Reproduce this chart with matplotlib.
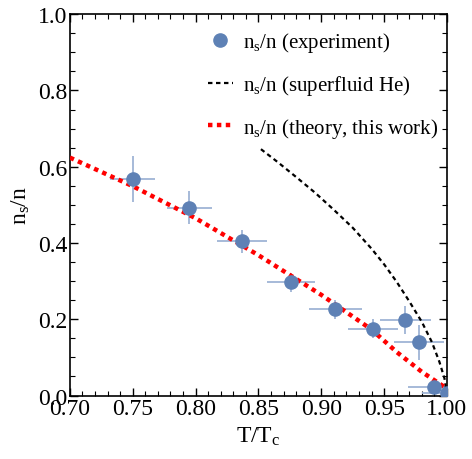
import numpy as np
import matplotlib
matplotlib.use("Agg")
import matplotlib.pyplot as plt
from matplotlib.ticker import MultipleLocator

# -----------------------------------------------------------------------------
# Data
# -----------------------------------------------------------------------------
T_exp = [0.750, 0.795, 0.837, 0.876, 0.911, 0.941, 0.967, 0.978, 0.990, 1.000]
ns_exp = [0.567, 0.493, 0.405, 0.297, 0.226, 0.175, 0.198, 0.140, 0.023, 0.007]
T_err = [0.018, 0.018, 0.020, 0.019, 0.021, 0.020, 0.020, 0.020, 0.021, 0.020]
ns_err = [0.060, 0.043, 0.030, 0.025, 0.025, 0.025, 0.036, 0.046, 0.010, 0.0]

T_theory = [0.70, 0.75, 0.80, 0.85, 0.90, 0.94, 0.96, 0.98, 1.00]
ns_theory = [0.624, 0.549, 0.465, 0.368, 0.264, 0.173, 0.114, 0.062, 0.018]

T_he = [0.852, 0.865, 0.880, 0.895, 0.910, 0.925, 0.940, 0.950, 0.960,
        0.970, 0.980, 0.988, 0.994, 0.998, 1.000]
ns_he = [0.646, 0.613, 0.573, 0.532, 0.487, 0.440, 0.385, 0.344, 0.298,
         0.247, 0.193, 0.140, 0.088, 0.045, 0.0]

# -----------------------------------------------------------------------------
# Style
# -----------------------------------------------------------------------------
plt.rcParams["font.family"] = ["Liberation Serif", "DejaVu Serif"]
plt.rcParams["mathtext.fontset"] = "custom"
plt.rcParams["mathtext.rm"] = "Liberation Serif"
plt.rcParams["mathtext.it"] = "Liberation Serif:italic"

BLUE = "#5e81b5"
BLUE_LIGHT = "#9fb4d6"

fig = plt.figure(figsize=(4.72, 4.60), dpi=100)
ax = fig.add_axes([0.148, 0.138, 0.799, 0.829])

ax.errorbar(T_exp, ns_exp, xerr=T_err, yerr=ns_err, fmt="none",
            ecolor=BLUE_LIGHT, elinewidth=1.3, capsize=0, zorder=2)
ax.plot(T_exp, ns_exp, "o", color=BLUE, ms=9.5, zorder=5,
        label=r"n$_{\rm s}$/n (experiment)")
ax.plot(T_he, ns_he, color="black", lw=1.6, ls=(0, (2, 1.6)), zorder=3,
        label=r"n$_{\rm s}$/n (superfluid He)")
ax.plot(T_theory, ns_theory, color="red", lw=3.2, ls=(0, (1, 1)), zorder=4,
        label=r"n$_{\rm s}$/n (theory, this work)")

ax.set_xlim(0.70, 1.00)
ax.set_ylim(0.0, 1.0)
ax.xaxis.set_major_locator(MultipleLocator(0.05))
ax.xaxis.set_minor_locator(MultipleLocator(0.01))
ax.yaxis.set_major_locator(MultipleLocator(0.2))
ax.yaxis.set_minor_locator(MultipleLocator(0.05))
ax.xaxis.set_major_formatter(plt.FormatStrFormatter("%.2f"))
ax.yaxis.set_major_formatter(plt.FormatStrFormatter("%.1f"))
ax.tick_params(which="both", direction="in", top=True, right=True,
               labelsize=17, pad=2)
ax.tick_params(which="major", length=6, width=1)
ax.tick_params(which="minor", length=3.5, width=0.8)
for s in ax.spines.values():
    s.set_linewidth(1.2)

ax.set_xlabel(r"T/T$_{\rm c}$", fontsize=17, labelpad=4)
ax.set_ylabel(r"n$_{\rm s}$/n", fontsize=17, labelpad=4)

ax.legend(loc="upper right", frameon=False, fontsize=15, handlelength=1.2,
          handletextpad=0.5, labelspacing=0.9, borderaxespad=0.0,
          bbox_to_anchor=(1.0, 0.98))

fig.savefig("out.png", dpi=100)
